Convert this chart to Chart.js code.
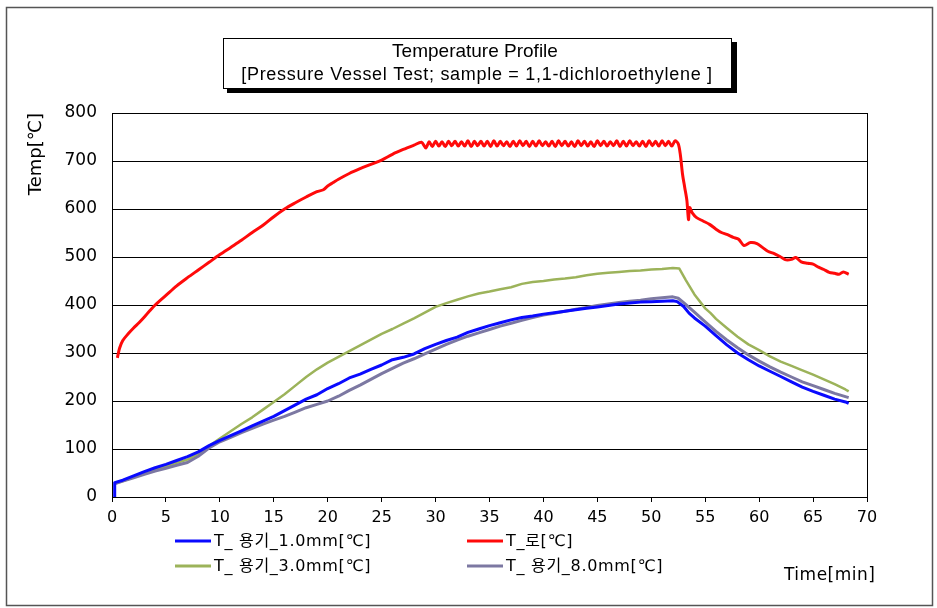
<!DOCTYPE html>
<html>
<head>
<meta charset="utf-8">
<script src="https://cdn.jsdelivr.net/npm/chart.js@4.4.1/dist/chart.umd.min.js"></script>
<style>
  html, body { margin: 0; padding: 0; background: #fff; }
  #wrap { width: 937px; height: 608px; position: relative; }
</style>
</head>
<body>
<div id="wrap"><canvas id="c" width="937" height="608"></canvas></div>
<script>
// Series names (legend order: row 1 = 1.0mm, furnace; row 2 = 3.0mm, 8.0mm)
const seriesNames = ['T_ 용기_1.0mm[℃]', 'T_로[℃]', 'T_ 용기_3.0mm[℃]', 'T_ 용기_8.0mm[℃]'];
const seriesColors = ['#0a0aff', '#ff0a0a', '#9cb35a', '#7c78a2'];

const chartTitle = ['Temperature Profile', '[Pressure Vessel Test; sample = 1,1-dichloroethylene ]'];
const yTitle = 'Temp[℃]';
const xTitle = 'Time[min]';
const xTicks = { min: 0, max: 70, step: 5 };
const yTicks = { min: 0, max: 800, step: 100 };

// Furnace temperature T_로 (min, ℃)
const furnaceTime = [0.5, 0.7, 1.0, 1.5, 2.0, 2.5, 3.0, 3.5, 4.0, 5.0, 6.0, 7.0, 8.0, 9.0, 10.0,
  11.0, 12.0, 13.0, 14.0, 15.0, 16.0, 17.0, 18.0, 19.0, 19.6, 20.0, 20.5, 21.0, 22.0, 23.0, 24.0,
  25.0, 26.0, 27.0, 28.0, 28.7,
  29.1, 29.4, 29.7, 30.0, 30.3, 30.6, 30.9, 31.2, 31.5, 31.8, 32.1, 32.4, 32.7, 33.0, 33.3, 33.6,
  33.9, 34.2, 34.5, 34.8, 35.1, 35.4, 35.7, 36.0, 36.3, 36.6, 36.9, 37.2, 37.5, 37.8, 38.1, 38.4,
  38.7, 39.0, 39.3, 39.6, 39.9, 40.2, 40.5, 40.8, 41.1, 41.4, 41.7, 42.0, 42.3, 42.6, 42.9, 43.2,
  43.5, 43.8, 44.1, 44.4, 44.7, 45.0, 45.3, 45.6, 45.9, 46.2, 46.5, 46.8, 47.1, 47.4, 47.7, 48.0,
  48.3, 48.6, 48.9, 49.2, 49.5, 49.8, 50.1, 50.4, 50.7, 51.0, 51.3, 51.6, 51.9, 52.2,
  52.5, 52.7, 52.9, 53.1, 53.3, 53.45, 53.55, 53.8, 54.2, 54.8, 55.4, 56.0, 56.5, 57.0, 57.6,
  58.1, 58.6, 59.2, 59.8, 60.3, 60.8, 61.4, 62.0, 62.5, 63.0, 63.4, 63.9, 64.5, 65.0, 65.5,
  66.0, 66.5, 67.0, 67.4, 67.8, 68.3];
const furnaceTemp = [290, 310, 326, 340, 352, 363, 375, 388, 400, 420, 440, 457, 473, 489, 505,
  520, 535, 551, 566, 584, 600, 613, 625, 636, 640, 648, 655, 662, 674, 684, 693,
  702, 714, 724, 733, 739,
  727, 740, 730, 741, 731, 740, 730, 741, 732, 741, 731, 740, 731, 742, 730, 741,
  732, 741, 731, 741, 730, 742, 731, 741, 732, 740, 730, 741, 731, 742, 732, 741,
  730, 741, 731, 742, 732, 740, 731, 741, 730, 742, 732, 741, 731, 740, 730, 742,
  732, 741, 731, 740, 730, 742, 732, 741, 731, 740, 732, 742, 730, 741, 731, 742,
  732, 740, 731, 741, 730, 742, 732, 741, 731, 742, 732, 741, 731, 742,
  736, 712, 672, 645, 618, 578, 603, 592, 582, 575, 568, 558, 551, 547, 541,
  537, 524, 530, 528, 520, 512, 507, 500, 494, 495, 499, 490, 487, 485, 479,
  474, 468, 466, 464, 469, 464];

// Vessel wall, 1.0 mm
const wall1Time = [0.2, 0.25, 1, 2, 3, 4, 5, 6, 7, 8, 9, 10, 11, 12, 13, 14, 15, 16, 17, 18, 19, 20,
  21, 22, 23, 24, 25, 26, 27, 28, 29, 30, 31, 32, 33, 34, 35, 36, 37, 38, 39, 40, 41, 42, 43, 44,
  45, 46, 47, 48, 49, 50, 51, 52, 52.4, 53, 53.5, 54, 55, 56, 57, 58, 59, 60, 61, 62, 63, 64, 65,
  66, 67, 68, 68.3];
const wall1Temp = [0, 30, 35, 44, 53, 61, 68, 76, 84, 94, 107, 118, 128, 138, 148, 158, 168, 180, 192, 204, 213, 226,
  236, 248, 256, 266, 275, 286, 291, 298, 309, 318, 326, 333, 343, 350, 357, 363, 369, 374, 377, 381,
  384, 387, 390, 393, 396, 399, 402, 404, 406, 407, 408, 409, 407, 397, 383, 373, 356, 336, 317, 300,
  286, 273, 262, 251, 240, 229, 220, 212, 204, 198, 195];

// Vessel wall, 3.0 mm
const wall3Time = [0.3, 1, 2, 3, 4, 5, 6, 7, 8, 9, 10, 11, 12, 13, 14, 15, 16, 17, 18, 19, 20,
  21, 22, 23, 24, 25, 26, 27, 28, 29, 30, 31, 32, 33, 34, 35, 36, 37, 38, 39, 40, 41, 42, 43, 44,
  45, 46, 47, 48, 49, 50, 51, 52, 52.6, 53.2, 54, 55, 55.5, 56, 57, 57.6, 58, 59, 60, 61, 62, 63,
  63.9, 65, 66, 67, 68, 68.3];
const wall3Temp = [28, 33, 41, 49, 57, 64, 71, 78, 90, 106, 122, 137, 152, 166, 182, 198, 214, 232, 250, 266, 280,
  292, 304, 316, 328, 340, 350, 361, 372, 384, 396, 404, 411, 418, 424, 428, 433, 437, 444, 448, 450,
  453, 455, 458, 462, 465, 467, 469, 471, 472, 474, 475, 477, 476, 452, 422, 393, 383, 371, 352, 341,
  334, 318, 306, 293, 282, 273, 265, 255, 245, 235, 224, 220];

// Vessel wall, 8.0 mm
const wall8Time = [0.3, 1, 2, 3, 4, 5, 6, 7, 8, 9, 10, 11, 12, 13, 14, 15, 16, 17, 18, 19, 20,
  21, 22, 23, 24, 25, 26, 27, 28, 29, 30, 31, 32, 33, 34, 35, 36, 37, 38, 39, 40, 41, 42, 43, 44,
  45, 46, 47, 48, 49, 50, 51, 52, 52.5, 53, 54, 55, 56, 57, 58, 59, 60, 61, 62, 63, 64, 65, 66,
  67, 68, 68.3];
const wall8Temp = [28, 33, 40, 47, 54, 60, 66, 72, 85, 102, 115, 124, 134, 143, 152, 160, 168, 177, 186, 193, 200,
  210, 222, 233, 245, 257, 268, 279, 288, 298, 308, 318, 327, 335, 342, 349, 356, 362, 368, 374, 379,
  383, 387, 391, 395, 399, 402, 405, 408, 410, 413, 415, 417, 414, 405, 385, 365, 345, 327, 311, 296,
  283, 271, 260, 250, 240, 232, 224, 216, 209, 207];

function pairs(xs, ys) { return xs.map((x, i) => ({ x: x, y: ys[i] })); }

const seriesData = [
  pairs(wall1Time, wall1Temp),
  pairs(furnaceTime, furnaceTemp),
  pairs(wall3Time, wall3Temp),
  pairs(wall8Time, wall8Temp)
];
const seriesWidths = [3, 3, 2.5, 3];
// the furnace trace is drawn as a smooth wave through its set-point ripple
const seriesTension = [0, 0.3, 0, 0];
// draw order: furnace and 3.0mm underneath, 8.0mm then 1.0mm on top
const seriesOrder = [0, 3, 2, 1];

const LATIN = '"Liberation Sans", "Noto Sans CJK KR", sans-serif';
const WIDE = '"DejaVu Sans", "Noto Sans CJK KR", sans-serif';

// Frame, title box, two-row legend and the time caption
const decorations = {
  id: 'decorations',
  afterDraw(chart) {
    const { ctx, chartArea: a } = chart;
    ctx.save();

    // right edge of the plot
    ctx.strokeStyle = '#000';
    ctx.lineWidth = 1;
    const rx = Math.round(a.right) + 0.5;
    ctx.beginPath();
    ctx.moveTo(rx, Math.round(a.top));
    ctx.lineTo(rx, Math.round(a.bottom));
    ctx.stroke();

    // outer frame
    ctx.strokeStyle = '#555';
    ctx.lineWidth = 1.5;
    ctx.strokeRect(6.5, 7.5, 926, 598);

    // title box with drop shadow
    ctx.fillStyle = '#000';
    ctx.fillRect(227, 42, 510, 51);
    ctx.fillStyle = '#fff';
    ctx.fillRect(223, 38, 509, 51);
    ctx.strokeStyle = '#000';
    ctx.lineWidth = 1;
    ctx.strokeRect(223.5, 38.5, 508, 50);

    ctx.fillStyle = '#000';
    ctx.textAlign = 'center';
    ctx.textBaseline = 'middle';
    ctx.font = '19px ' + LATIN;
    ctx.fillText(chartTitle[0], 475, 52);
    ctx.font = '18px ' + LATIN;
    ctx.letterSpacing = '0.7px';
    ctx.fillText(chartTitle[1], 477, 75);
    ctx.letterSpacing = '0px';

    // legend: 2 x 2 grid
    const cols = [175, 467];
    const rows = [541, 566];
    ctx.font = '16px ' + WIDE;
    ctx.textAlign = 'left';
    chart.data.datasets.forEach((ds, i) => {
      const cx = cols[i % 2];
      const cy = rows[Math.floor(i / 2)];
      ctx.strokeStyle = ds.borderColor;
      ctx.lineWidth = 3;
      ctx.beginPath();
      ctx.moveTo(cx, cy);
      ctx.lineTo(cx + 36, cy);
      ctx.stroke();
      ctx.fillStyle = '#000';
      ctx.letterSpacing = '0.7px';
      ctx.fillText(ds.label, cx + 39, cy + 1);
    });

    ctx.font = '17px ' + WIDE;
    ctx.letterSpacing = '0.5px';
    ctx.fillText(xTitle, 784, 576);
    ctx.restore();
  }
};

new Chart(document.getElementById('c'), {
  type: 'line',
  data: {
    datasets: seriesNames.map((name, i) => ({
      label: name,
      data: seriesData[i],
      borderColor: seriesColors[i],
      backgroundColor: seriesColors[i],
      borderWidth: seriesWidths[i],
      borderJoinStyle: 'round',
      pointRadius: 0,
      tension: seriesTension[i],
      fill: false,
      order: seriesOrder[i]
    }))
  },
  options: {
    responsive: false,
    animation: false,
    devicePixelRatio: 1,
    layout: { padding: { left: 0, top: 113, right: 70, bottom: 81 } },
    plugins: {
      legend: { display: false },
      title: { display: false },
      tooltip: { enabled: false }
    },
    scales: {
      x: {
        type: 'linear',
        min: xTicks.min,
        max: xTicks.max,
        afterFit(scale) { scale.height = 30; },
        border: { display: true, color: '#000', width: 1 },
        grid: { display: true, drawOnChartArea: false, drawTicks: true, tickLength: 5, color: '#000' },
        ticks: {
          stepSize: xTicks.step,
          autoSkip: false,
          maxRotation: 0,
          padding: 6,
          color: '#000',
          font: { family: WIDE, size: 16 }
        }
      },
      y: {
        min: yTicks.min,
        max: yTicks.max,
        afterFit(scale) { scale.width = 112; },
        border: { display: true, color: '#000', width: 1 },
        grid: { color: '#000', lineWidth: 1, drawTicks: false },
        ticks: {
          stepSize: yTicks.step,
          padding: 15,
          color: '#000',
          font: { family: WIDE, size: 17 }
        },
        title: {
          display: true,
          text: yTitle,
          align: 'end',
          color: '#000',
          font: { family: WIDE, size: 18 },
          padding: { top: 26, bottom: 0 }
        }
      }
    }
  },
  plugins: [decorations]
});
</script>
</body>
</html>
